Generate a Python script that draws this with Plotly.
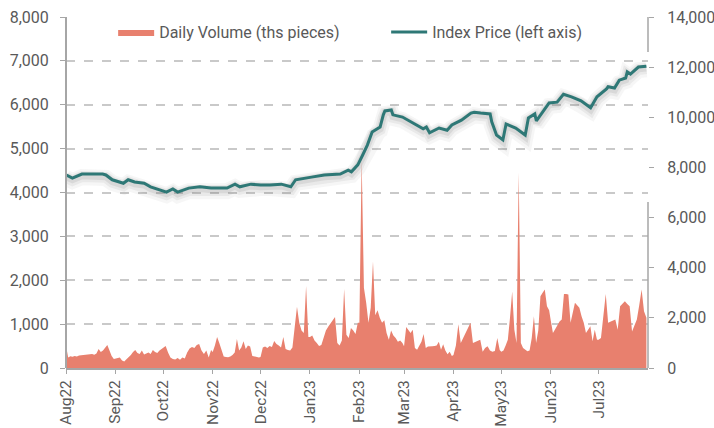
import pandas as pd
import plotly.graph_objects as go

# ---- Daily volume (ths pieces), right axis, values per month (trading days) ----
months = ["2022-08", "2022-09", "2022-10", "2022-11", "2022-12", "2023-01",
          "2023-02", "2023-03", "2023-04", "2023-05", "2023-06", "2023-07"]
vol_aug22 = [900, 420, 470, 450, 480, 460, 500, 510, 540, 520, 550, 540, 560, 530, 580, 760, 640, 700, 820, 920, 700, 480, 360]
vol_sep22 = [380, 400, 420, 300, 260, 350, 420, 520, 640, 720, 600, 560, 700, 540, 580, 620, 560, 720, 640, 600, 700, 760]
vol_oct22 = [820, 880, 620, 420, 360, 340, 400, 330, 420, 380, 620, 780, 840, 800, 920, 960, 700, 560, 700, 420, 720]
vol_nov22 = [640, 900, 1240, 1000, 700, 460, 440, 430, 460, 520, 620, 1160, 700, 820, 1070, 760, 900, 860, 480, 460, 440, 420]
vol_dec22 = [440, 820, 860, 800, 880, 840, 1080, 960, 900, 820, 1240, 760, 720, 700, 820, 1580, 2440, 1800, 1500, 1400, 3270, 1240]
vol_jan23 = [1240, 1300, 1100, 1000, 880, 920, 1250, 1500, 1650, 1800, 1900, 2030, 1000, 900, 1100, 3150, 1330, 1200, 1600, 1500, 1360, 1800]
vol_feb23 = [1800, 8300, 3200, 2600, 1800, 2400, 4250, 2100, 2300, 2000, 1800, 1900, 1400, 1130, 1500, 1300, 1200, 1050, 1100, 1000]
vol_mar23 = [870, 1640, 1500, 1400, 1530, 800, 730, 900, 1050, 1360, 800, 860, 880, 870, 880, 900, 1050, 730, 950, 700, 550, 650, 480]
vol_apr23 = [520, 900, 1750, 1000, 1200, 1400, 1600, 1800, 1000, 1050, 1100, 1130, 650, 800, 870, 700, 650, 680, 1200, 720]
vol_may23 = [650, 700, 900, 1130, 2000, 3050, 1530, 1000, 7800, 1000, 800, 730, 670, 700, 1200, 2060, 1000, 1500, 2860, 3000, 3130, 2460, 2300]
vol_jun23 = [1900, 1400, 1550, 1730, 1850, 1930, 2950, 2950, 2930, 1800, 2200, 2600, 2500, 2400, 2060, 1800, 1400, 1550, 1670, 1070, 1530, 1130]
vol_jul23 = [1130, 1200, 2060, 2950, 1800, 1850, 1900, 1930, 1530, 2460, 2560, 2660, 2550, 2460, 1460, 1700, 1930, 2500, 3130, 2260, 2000]
vol_by_month = [vol_aug22, vol_sep22, vol_oct22, vol_nov22, vol_dec22, vol_jan23,
                vol_feb23, vol_mar23, vol_apr23, vol_may23, vol_jun23, vol_jul23]

# ---- Index price, left axis ----
price_dates = ["2022-08-01", "2022-08-05", "2022-08-11", "2022-08-19", "2022-08-24", "2022-08-26",
               "2022-08-30", "2022-09-06", "2022-09-09", "2022-09-13", "2022-09-19", "2022-09-23",
               "2022-10-03", "2022-10-07", "2022-10-10", "2022-10-17", "2022-10-24", "2022-10-31",
               "2022-11-10", "2022-11-15", "2022-11-18", "2022-11-25", "2022-12-01", "2022-12-07",
               "2022-12-14", "2022-12-20", "2022-12-23", "2023-01-02", "2023-01-10", "2023-01-20",
               "2023-01-25", "2023-01-27", "2023-01-31", "2023-02-03", "2023-02-06", "2023-02-09",
               "2023-02-13", "2023-02-14", "2023-02-16", "2023-02-17", "2023-02-21", "2023-02-22",
               "2023-02-28", "2023-03-07", "2023-03-13", "2023-03-15", "2023-03-17", "2023-03-23",
               "2023-03-28", "2023-03-31", "2023-04-06", "2023-04-12", "2023-04-14", "2023-04-18",
               "2023-04-24", "2023-04-25", "2023-04-28", "2023-05-02", "2023-05-04", "2023-05-10",
               "2023-05-16", "2023-05-18", "2023-05-22", "2023-05-23", "2023-05-31", "2023-06-05",
               "2023-06-09", "2023-06-14", "2023-06-20", "2023-06-26", "2023-06-30", "2023-07-06",
               "2023-07-07", "2023-07-11", "2023-07-14", "2023-07-18", "2023-07-19", "2023-07-21",
               "2023-07-26", "2023-07-31"]
price_values = [4400, 4330, 4420, 4420, 4420, 4400,
                4290, 4210, 4290, 4240, 4210, 4130,
                4010, 4080, 4010, 4100, 4130, 4100,
                4100, 4190, 4130, 4190, 4170, 4170,
                4190, 4130, 4290, 4350, 4400, 4420,
                4510, 4470, 4630, 4850, 5080, 5380,
                5470, 5490, 5770, 5860, 5880, 5770,
                5720, 5580, 5450, 5490, 5360, 5470,
                5420, 5540, 5650, 5810, 5830, 5810,
                5790, 5610, 5310, 5200, 5560, 5470,
                5310, 5700, 5790, 5630, 6040, 6060,
                6240, 6180, 6090, 5930, 6180, 6360,
                6410, 6380, 6560, 6610, 6750, 6700,
                6860, 6880]

left_ticks = [0, 1000, 2000, 3000, 4000, 5000, 6000, 7000, 8000]
right_ticks = [0, 2000, 4000, 6000, 8000, 10000, 12000, 14000]
month_ticks = [m + "-01" for m in months]

# build volume dates (spread across each month's span)
vol_dates, vol_values = [], []
for m, vals in zip(months, vol_by_month):
    start = pd.Timestamp(m + "-01")
    end = start + pd.offsets.MonthEnd(0)
    ds = pd.date_range(start, end, periods=len(vals))
    vol_dates.extend(list(ds))
    vol_values.extend(vals)

TEXT = "#595959"
AXIS = "#A6A6A6"
FONT = "Roboto"
FS = 16

fig = go.Figure()
fig.add_trace(go.Scatter(
    x=vol_dates, y=vol_values, name="Daily Volume (ths pieces)",
    mode="lines", line=dict(width=0, color="#E8806E"),
    fill="tozeroy", fillcolor="#E8806E", yaxis="y", hoverinfo="skip"))

# soft shadow under the index line
for w, a, off in [(16, 0.06, 70), (11, 0.09, 55), (7, 0.13, 40)]:
    fig.add_trace(go.Scatter(
        x=price_dates, y=[v - off for v in price_values], mode="lines",
        line=dict(width=w, color="rgba(110,110,110,%s)" % a),
        yaxis="y2", showlegend=False, hoverinfo="skip"))
fig.add_trace(go.Scatter(
    x=price_dates, y=price_values, name="Index Price (left axis)",
    mode="lines", line=dict(width=3, color="#2E7876"), yaxis="y2"))

fig.update_layout(
    width=714, height=428,
    margin=dict(l=66, r=66, t=17, b=60, autoexpand=False),
    paper_bgcolor="white", plot_bgcolor="white",
    font=dict(family=FONT, size=FS, color=TEXT),
    showlegend=True,
    legend=dict(orientation="h", x=0.081, y=0.957, xanchor="left", yanchor="middle",
                bgcolor="rgba(0,0,0,0)", font=dict(size=FS, color=TEXT, family=FONT),
                entrywidth=222, entrywidthmode="pixels", itemwidth=36,
                traceorder="normal"),
    xaxis=dict(type="date", range=["2022-08-01", "2023-08-01"],
               tickvals=month_ticks, tickformat="%b%y",
               tickangle=-90, ticks="outside", ticklen=4, tickcolor=AXIS,
               showline=True, linecolor=AXIS, linewidth=2, automargin=False,
               showgrid=False, zeroline=False, ticklabelstandoff=0,
               tickfont=dict(size=15.5, color=TEXT, family=FONT)),
    yaxis=dict(side="right", range=[0, 14000], tickvals=right_ticks,
               tickformat=",d", ticks="outside", ticklen=5, tickcolor=AXIS,
               showline=False, showgrid=False, zeroline=False, automargin=False,
               ticklabelstandoff=10,
               tickfont=dict(size=FS, color=TEXT, family=FONT)),
    yaxis2=dict(side="left", overlaying="y", range=[0, 8000], tickvals=left_ticks,
                tickformat=",d", ticks="outside", ticklen=5, tickcolor=AXIS,
                showline=False, showgrid=True, gridcolor="#C9C9C9", griddash="dash",
                gridwidth=1.5, zeroline=False, automargin=False, ticklabelstandoff=8,
                tickfont=dict(size=FS, color=TEXT, family=FONT)),
    shapes=[
        dict(type="line", xref="paper", yref="paper", x0=0, x1=0, y0=0, y1=1.0,
             line=dict(color=AXIS, width=2)),
        dict(type="line", xref="paper", yref="paper", x0=1, x1=1, y0=0, y1=0.473,
             line=dict(color=AXIS, width=1.5)),
        dict(type="line", xref="paper", yref="paper", x0=1, x1=1, y0=0.9, y1=1.0,
             line=dict(color=AXIS, width=1.5)),
    ],
)

fig.write_html("out.html", config={"displayModeBar": False},
               post_script="document.body.style.margin='0px';document.body.style.overflow='hidden';")
